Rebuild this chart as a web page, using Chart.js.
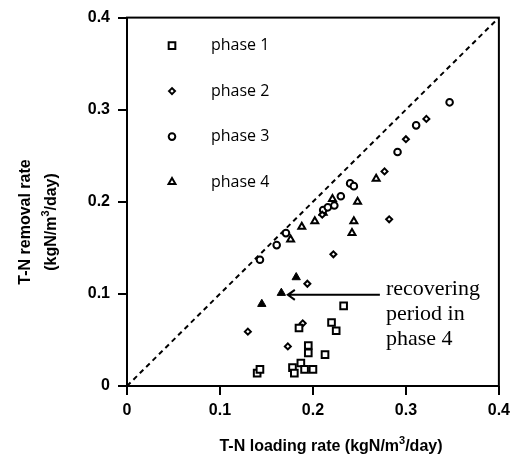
<!DOCTYPE html>
<html>
<head>
<meta charset="utf-8">
<script src="https://cdn.jsdelivr.net/npm/chart.js@4.4.0/dist/chart.umd.min.js"></script>
<style>
  html, body { margin: 0; padding: 0; background: #fff; }
  #wrap { width: 516px; height: 459px; }
</style>
</head>
<body>
<div id="wrap"><canvas id="tnChart" width="516" height="459"></canvas></div>
<script>
//--------------------- Datos ---------------------------------------------
const xTicks = [0, 0.1, 0.2, 0.3, 0.4];
const yTicks = [0, 0.1, 0.2, 0.3, 0.4];

const phase1X = [0.140, 0.143, 0.178, 0.180, 0.187, 0.191, 0.200, 0.195, 0.195, 0.213, 0.185, 0.220, 0.225, 0.233];
const phase1Y = [0.014, 0.018, 0.020, 0.014, 0.025, 0.018, 0.018, 0.044, 0.036, 0.034, 0.063, 0.069, 0.060, 0.087];

const phase2X = [0.130, 0.173, 0.189, 0.194, 0.210, 0.222, 0.282, 0.277, 0.300, 0.322];
const phase2Y = [0.059, 0.043, 0.068, 0.111, 0.186, 0.143, 0.181, 0.233, 0.268, 0.290];

const phase3X = [0.143, 0.161, 0.171, 0.211, 0.216, 0.223, 0.230, 0.240, 0.244, 0.291, 0.311, 0.347];
const phase3Y = [0.137, 0.153, 0.166, 0.191, 0.194, 0.196, 0.206, 0.220, 0.217, 0.254, 0.283, 0.308];

const phase4X = [0.176, 0.188, 0.202, 0.211, 0.221, 0.248, 0.244, 0.242, 0.268];
const phase4Y = [0.159, 0.173, 0.179, 0.188, 0.203, 0.200, 0.179, 0.166, 0.225];

// periodo de recuperación (triángulos rellenos)
const recoverX = [0.145, 0.166, 0.182];
const recoverY = [0.089, 0.101, 0.118];

// línea 1:1
const diagX = [0, 0.4];
const diagY = [0, 0.4];

const legendLabels = ['phase 1', 'phase 2', 'phase 3', 'phase 4'];
const noteLines = ['recovering', 'period in', 'phase 4'];
// [texto, superíndice]
const xTitle = [['T-N loading rate (kgN/m', false], ['3', true], ['/day)', false]];
const yTitle1 = [['T-N removal rate', false]];
const yTitle2 = [['(kgN/m', false], ['3', true], ['/day)', false]];

const toPts = (xs, ys) => xs.map((x, i) => ({ x: x, y: ys[i] }));

// dibuja una línea de texto centrada con superíndices
function drawRich(ctx, parts, cx, cy) {
  const mainFont = 'bold 16px "Liberation Sans"';
  const supFont = 'bold 11px "Liberation Sans"';
  let total = 0;
  parts.forEach(p => { ctx.font = p[1] ? supFont : mainFont; total += ctx.measureText(p[0]).width; });
  let x = cx - total / 2;
  ctx.textAlign = 'left';
  ctx.textBaseline = 'middle';
  parts.forEach(p => {
    ctx.font = p[1] ? supFont : mainFont;
    ctx.fillText(p[0], x, p[1] ? cy - 6 : cy);
    x += ctx.measureText(p[0]).width;
  });
}

//--------------------- Plugin: marco, leyenda, flecha y títulos -----------------------
const decor = {
  id: 'decor',
  afterDraw(chart) {
    const ctx = chart.ctx;
    const a = chart.chartArea;
    const xs = chart.scales.x, ys = chart.scales.y;
    ctx.save();

    // marco
    ctx.strokeStyle = '#000';
    ctx.lineWidth = 2;
    ctx.strokeRect(a.left, a.top, a.right - a.left, a.bottom - a.top);

    // leyenda
    chart.data.datasets.slice(0, 4).forEach((ds, i) => {
      const y = a.top + 28 + i * 45.5;
      ctx.fillStyle = ds.pointBackgroundColor;
      ctx.strokeStyle = '#000';
      ctx.lineWidth = ds.pointBorderWidth;
      Chart.helpers.drawPoint(ctx, {
        pointStyle: ds.pointStyle, radius: ds.pointRadius, rotation: 0, borderWidth: ds.pointBorderWidth
      }, a.left + 45, y);
      ctx.fillStyle = '#000';
      ctx.font = '16px "Open Sans"';
      ctx.textAlign = 'left';
      ctx.textBaseline = 'middle';
      ctx.fillText(legendLabels[i], a.left + 84, y);
    });

    // flecha "recovering period"
    const ay = ys.getPixelForValue(0.099);
    const x0 = xs.getPixelForValue(0.272), x1 = xs.getPixelForValue(0.173);
    ctx.strokeStyle = '#000';
    ctx.lineWidth = 2;
    ctx.beginPath();
    ctx.moveTo(x0, ay); ctx.lineTo(x1, ay);
    ctx.moveTo(x1 + 7, ay - 5); ctx.lineTo(x1, ay); ctx.lineTo(x1 + 7, ay + 5);
    ctx.stroke();

    ctx.fillStyle = '#000';
    ctx.font = '22px "Liberation Serif"';
    ctx.textAlign = 'left';
    ctx.textBaseline = 'middle';
    noteLines.forEach((t, i) => ctx.fillText(t, x0 + 6, ay - 6 + i * 25));

    // títulos de ejes
    drawRich(ctx, xTitle, 331, 447);
    ctx.save();
    ctx.translate(26, 222);
    ctx.rotate(-Math.PI / 2);
    drawRich(ctx, yTitle1, 0, 0);
    drawRich(ctx, yTitle2, 0, 26);
    ctx.restore();

    ctx.restore();
  }
};

//--------------------- Gráfica de dispersión -----------------------
const tickFont = { family: 'Liberation Sans', size: 16, weight: 'bold' };

const ctx = document.getElementById('tnChart').getContext('2d');
const tnChart = new Chart(ctx, {
  type: 'scatter',
  data: {
    datasets: [
      { label: 'phase 1', data: toPts(phase1X, phase1Y), pointStyle: 'rect', pointRadius: 4.7,
        pointBorderWidth: 2, pointBackgroundColor: '#fff', pointBorderColor: '#000' },
      { label: 'phase 2', data: toPts(phase2X, phase2Y), pointStyle: 'rectRot', pointRadius: 3,
        pointBorderWidth: 2, pointBackgroundColor: '#fff', pointBorderColor: '#000' },
      { label: 'phase 3', data: toPts(phase3X, phase3Y), pointStyle: 'circle', pointRadius: 3.3,
        pointBorderWidth: 2, pointBackgroundColor: '#fff', pointBorderColor: '#000' },
      { label: 'phase 4', data: toPts(phase4X, phase4Y), pointStyle: 'triangle', pointRadius: 4,
        pointBorderWidth: 2, pointBackgroundColor: '#fff', pointBorderColor: '#000' },
      { label: 'phase 4 (recovering)', data: toPts(recoverX, recoverY), pointStyle: 'triangle', pointRadius: 4.8,
        pointBorderWidth: 1, pointBackgroundColor: '#000', pointBorderColor: '#000' },
      { type: 'line', label: '1:1', data: toPts(diagX, diagY), borderColor: '#000', borderWidth: 2,
        borderDash: [5, 4], pointRadius: 0, fill: false, order: 10 }
    ]
  },
  options: {
    responsive: false,
    devicePixelRatio: 1,
    animation: false,
    layout: { padding: { top: 12, right: 17, left: 0, bottom: 0 } },
    plugins: { legend: { display: false }, tooltip: { enabled: false } },
    scales: {
      x: {
        type: 'linear', min: 0, max: 0.4,
        afterBuildTicks: s => { s.ticks = xTicks.map(v => ({ value: v })); },
        afterFit: s => { s.height = 73; },
        border: { display: false },
        grid: { drawOnChartArea: false, tickLength: 9, color: '#000', lineWidth: 2 },
        ticks: { color: '#000', font: tickFont, padding: 6, maxRotation: 0,
                 callback: v => (v === 0 ? '0' : v.toFixed(1)) }
      },
      y: {
        type: 'linear', min: 0, max: 0.4,
        afterBuildTicks: s => { s.ticks = yTicks.map(v => ({ value: v })); },
        afterFit: s => { s.width = 127; },
        border: { display: false },
        grid: { drawOnChartArea: false, tickLength: 9, color: '#000', lineWidth: 2 },
        ticks: { color: '#000', font: tickFont, padding: 8,
                 callback: v => (v === 0 ? '0' : v.toFixed(1)) }
      }
    }
  },
  plugins: [decor]
});
</script>
</body>
</html>
